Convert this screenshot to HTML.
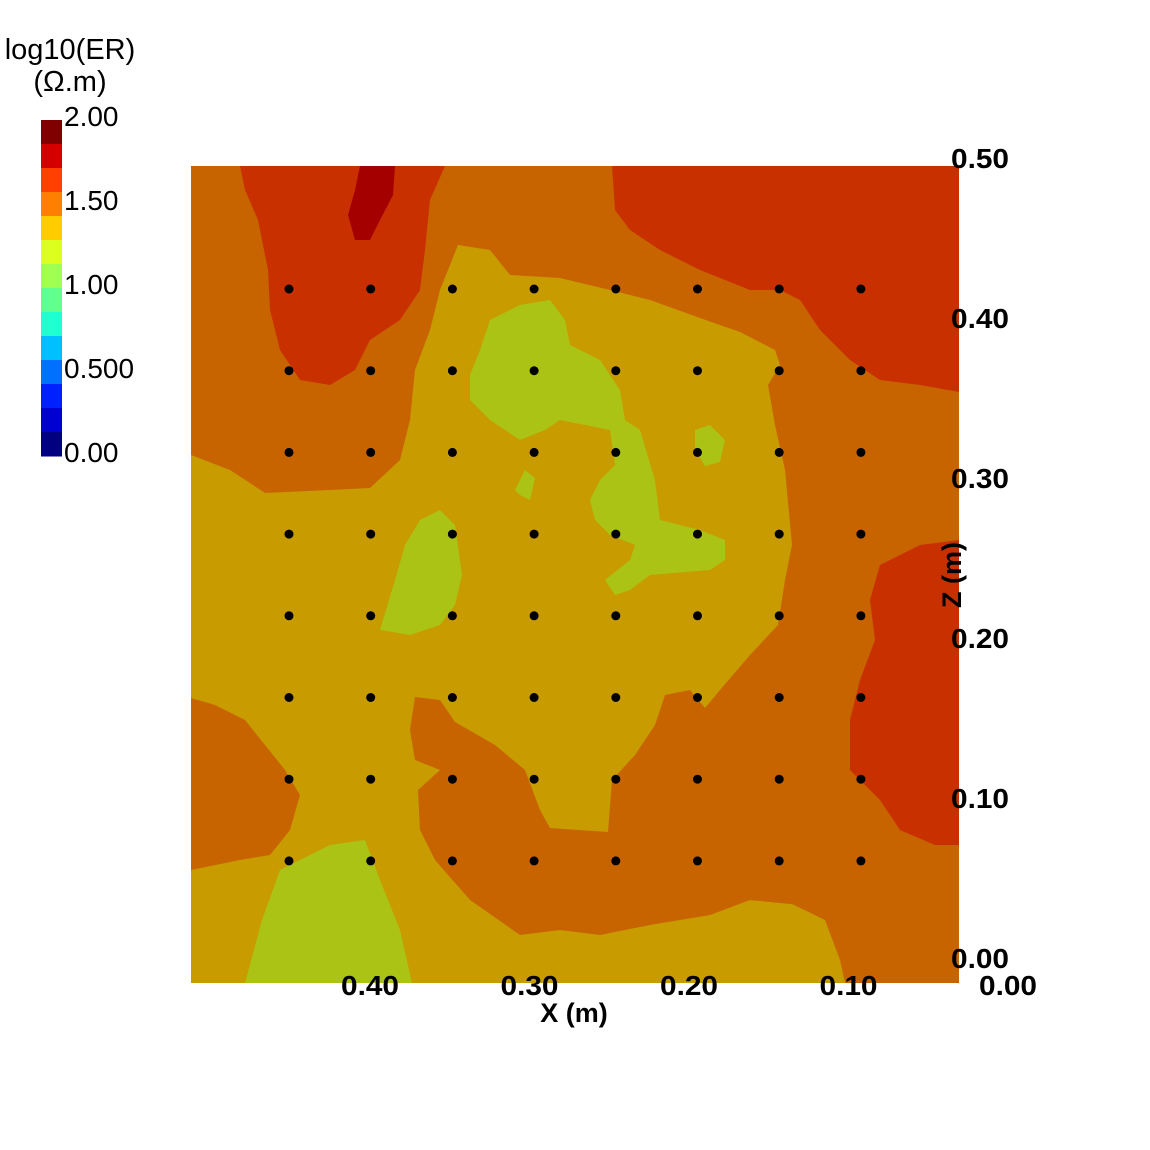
<!DOCTYPE html>
<html><head><meta charset="utf-8"><style>
html,body{margin:0;padding:0;background:#fff;}
svg{display:block;}
text{font-family:"Liberation Sans",sans-serif;}
</style></head><body>
<svg id="chart" width="1150" height="1150" viewBox="0 0 1150 1150">
<g id="plot">
<rect x="191" y="166" width="768" height="817" fill="#c86400"/>
<path fill="#c89b00" d="M191,455 L230,470 265,493 330,490 370,488 400,460 410,420 415,370 430,330 440,290 458,245 490,250 510,275 560,278 610,290 650,300 700,318 740,332 775,350 780,365 768,385 775,425 785,470 792,545 785,580 778,625 750,655 720,690 705,708 705,900 750,900 790,903 825,920 840,960 845,983 191,983 Z"/>
<path fill="#c86400" d="M415,697 L440,700 455,722 495,745 525,770 540,810 550,828 608,832 612,780 635,755 655,725 665,695 690,690 705,708 800,700 800,905 750,900 710,915 650,925 600,935 560,930 520,935 470,900 435,860 420,830 418,790 440,770 415,760 410,730 Z"/>
<path fill="#c86400" d="M191,698 L215,705 245,720 265,745 285,770 300,795 290,830 270,855 240,860 191,870 Z"/>
<path fill="#abc314" d="M245,983 L262,920 280,870 330,845 365,840 380,880 400,930 412,983 Z"/>
<path fill="#c83000" d="M240,166 L445,166 430,200 425,250 420,290 400,320 370,340 355,370 330,385 300,380 280,350 270,310 268,270 258,220 245,190 Z"/>
<path fill="#c83000" d="M612,166 L959,166 959,392 920,385 880,380 850,360 820,330 800,300 780,290 750,290 700,270 660,250 630,230 615,210 Z"/>
<path fill="#c83000" d="M959,540 L920,545 880,565 870,600 875,640 860,680 850,720 850,770 880,800 900,830 935,845 959,845 Z"/>
<path fill="#a50000" d="M360,166 L395,166 393,195 380,220 370,240 355,240 348,215 355,190 Z"/>
<path fill="#abc314" d="M490,320 L520,305 550,300 565,320 570,345 600,360 620,390 625,420 640,430 655,480 660,520 700,530 725,540 725,560 710,570 650,575 630,590 615,595 605,580 630,560 635,545 610,535 595,520 590,500 600,480 615,465 610,430 560,420 545,430 520,440 490,420 470,400 470,375 480,350 Z"/>
<path fill="#abc314" d="M695,430 L710,425 725,440 720,462 705,466 695,450 Z"/>
<path fill="#abc314" d="M380,630 L395,580 405,545 420,520 440,510 455,525 462,575 455,605 440,625 410,635 Z"/>
<path fill="#abc314" d="M515,490 L525,470 535,478 530,500 520,495 Z"/>
<g id="dots"></g>
</g>
<g id="axes"></g>
<g id="cbar">
<text x="70" y="59" font-size="29" text-anchor="middle" fill="#000">log10(ER)</text>
<text x="70" y="91" font-size="29" text-anchor="middle" fill="#000">(Ω.m)</text>
</g>
</svg>
<script>
const NS="http://www.w3.org/2000/svg";
// data
const dotX=[0.45,0.40,0.35,0.30,0.25,0.20,0.15,0.10];
const dotZ=[0.425,0.375,0.325,0.275,0.225,0.175,0.125,0.075];
const xTicks=[0.40,0.30,0.20,0.10,0.00];
const xTickLabels=["0.40","0.30","0.20","0.10","0.00"];
const zTicks=[0.50,0.40,0.30,0.20,0.10,0.00];
const zTickLabels=["0.50","0.40","0.30","0.20","0.10","0.00"];
const cbarColors=["#800000","#d40000","#ff4000","#ff8000","#ffcc00","#ddff20","#a0ff50","#60ff90","#20ffd0","#00c0ff","#0070ff","#0020ff","#0000d0","#000080"];
const cbarTicks=[2.0,1.5,1.0,0.5,0.0];
const cbarTickLabels=["2.00","1.50","1.00","0.500","0.00"];
// scales
function dx(v){return 289+(0.45-v)/0.05*81.7;}
function dz(v){return 289+(0.425-v)/0.05*81.7;}
function tx(v){return 1008-v*1595;}
function tz(v){return 958-v*1600;}
function cy(v){return 456-v/2*336;}
function mk(tag,attrs,parent){const e=document.createElementNS(NS,tag);for(const k in attrs)e.setAttribute(k,attrs[k]);parent.appendChild(e);return e;}
const dots=document.getElementById('dots');
dotZ.forEach(z=>dotX.forEach(x=>{
 const c=mk('circle',{cx:dx(x),cy:dz(z),r:4.5,fill:'#000'},dots);
 
 
}));
const axes=document.getElementById('axes');
xTicks.forEach((v,i)=>{
 const t=mk('text',{x:tx(v),y:995,'font-size':28,'font-weight':'bold','text-anchor':'middle',textLength:58,lengthAdjust:'spacingAndGlyphs'},axes);
 t.textContent=xTickLabels[i];
 
 
});
zTicks.forEach((v,i)=>{
 const t=mk('text',{x:951,y:tz(v)+10,'font-size':28,'font-weight':'bold',textLength:58,lengthAdjust:'spacingAndGlyphs'},axes);
 t.textContent=zTickLabels[i];
 
 
});
const xt=mk('text',{x:574,y:1022,'font-size':27,'font-weight':'bold','text-anchor':'middle'},axes);
xt.textContent='X (m)';


const zt=mk('text',{x:0,y:0,'font-size':27,'font-weight':'bold','text-anchor':'middle',transform:'translate(961,575) rotate(-90)'},axes);
zt.textContent='Z (m)';


const cbar=document.getElementById('cbar');
const n=cbarColors.length;
cbarColors.forEach((c,i)=>{
 const v0=2-i*2/n, v1=2-(i+1)*2/n;
 const r=mk('rect',{x:41,y:cy(v0),width:21,height:cy(v1)-cy(v0)+0.5,fill:c},cbar);
 
 
});
cbarTicks.forEach((v,i)=>{
 const t=mk('text',{x:64,y:cy(v)+6,'font-size':28,fill:'#000'},cbar);
 t.textContent=cbarTickLabels[i];
 
 
});
</script>
</body></html>
